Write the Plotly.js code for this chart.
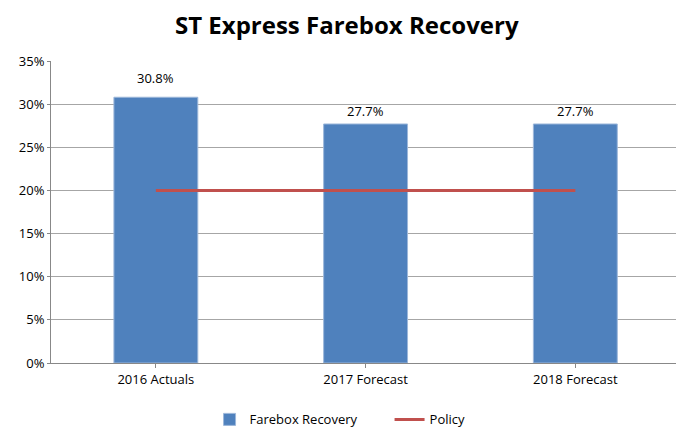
<!DOCTYPE html>
<html>
<head>
<meta charset="utf-8">
<script src="https://cdn.plot.ly/plotly-3.0.1.min.js"></script>
<style>
  body { margin: 0; background: #fff; }
  #plot { width: 676px; height: 428px; }
</style>
</head>
<body>
<div id="plot"></div>
<script>
const categories = ['2016 Actuals', '2017 Forecast', '2018 Forecast'];
const fareboxRecovery = [0.308, 0.277, 0.277];
const policy = [0.20, 0.20, 0.20];
const valueLabels = ['30.8%', '27.7%', '27.7%'];

const font = '"Open Sans", sans-serif';

const bars = {
    x: categories,
    y: fareboxRecovery,
    type: 'bar',
    name: 'Farebox Recovery',
    width: 0.4,
    marker: { color: '#4F81BD', line: { color: '#9DB7DA', width: 1 } },
    hoverinfo: 'x+y'
};

const policyLine = {
    x: categories,
    y: policy,
    type: 'scatter',
    mode: 'lines',
    name: 'Policy',
    line: { color: '#C0504D', width: 3 }
};

// labels sit a bit higher on the first bar, like the original
const shifts = [8, 2, 2];
const annotations = categories.map((c, i) => ({
    x: c,
    y: fareboxRecovery[i],
    text: valueLabels[i],
    showarrow: false,
    yanchor: 'bottom',
    yshift: shifts[i],
    font: { family: font, size: 13, color: '#000' }
}));

const layout = {
    width: 676,
    height: 428,
    margin: { l: 51, r: 0, t: 61, b: 65 },
    paper_bgcolor: '#fff',
    plot_bgcolor: '#fff',
    font: { family: font, size: 13, color: '#000' },
    title: {
        text: '<b>ST Express Farebox Recovery</b>',
        xref: 'container',
        x: 0.513,
        xanchor: 'center',
        yref: 'container',
        y: 0.94,
        yanchor: 'middle',
        font: { family: font, size: 24, color: '#000' }
    },
    xaxis: {
        type: 'category',
        range: [-0.5, 2.48],
        showline: true,
        linecolor: '#888',
        linewidth: 1,
        ticks: 'outside',
        ticklen: 4,
        tickcolor: '#888',
        showgrid: false,
        automargin: false,
        tickfont: { family: font, size: 13 }
    },
    yaxis: {
        range: [0, 0.35],
        dtick: 0.05,
        tickformat: '.0%',
        showline: true,
        linecolor: '#888',
        linewidth: 1,
        ticks: 'outside',
        ticklen: 3,
        tickcolor: '#888',
        gridcolor: '#A6A6A6',
        gridwidth: 1,
        zeroline: false,
        automargin: false,
        tickfont: { family: font, size: 13 }
    },
    showlegend: true,
    legend: {
        orientation: 'h',
        xref: 'container',
        x: 0.31,
        xanchor: 'left',
        yref: 'container',
        y: 0.02,
        yanchor: 'middle',
        entrywidth: 135,
        font: { family: font, size: 13 },
        traceorder: 'normal'
    },
    annotations: annotations
};

Plotly.newPlot('plot', [bars, policyLine], layout, { displayModeBar: false });
</script>
</body>
</html>
